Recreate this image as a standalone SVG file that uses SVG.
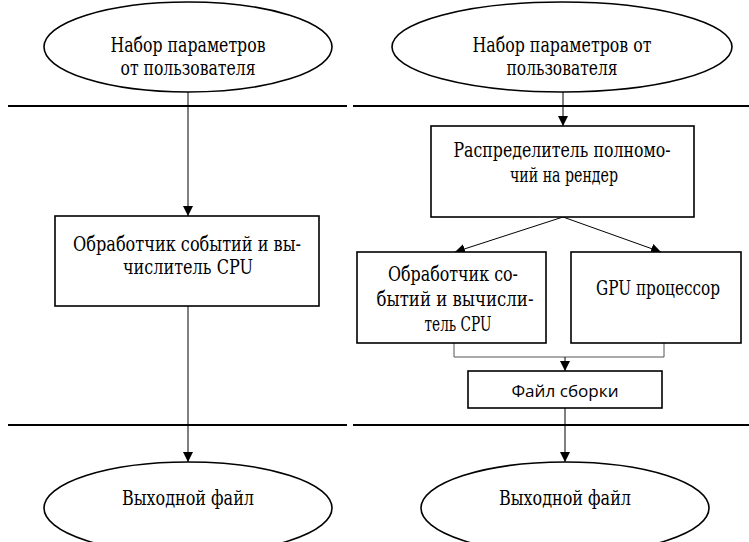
<svg xmlns="http://www.w3.org/2000/svg" width="749" height="542" viewBox="0 0 749 542">
  <style>
    .t { font-family: "DejaVu Serif", serif; font-size: 20px; fill: #000; text-anchor: middle; }
    .s { font-family: "Open Sans", "Noto Sans", sans-serif; font-size: 17px; fill: #000; text-anchor: middle; }
    .node { fill: #fff; stroke: #000; stroke-width: 1.6; }
    .sep { stroke: #000; stroke-width: 2; }
    .edge { fill: none; stroke: #000; stroke-width: 1; }
    .bracket { fill: none; stroke: #555; stroke-width: 1; }
  </style>
  <defs>
    <marker id="arr" viewBox="0 0 10 10" refX="10" refY="5" markerWidth="10" markerHeight="10" markerUnits="userSpaceOnUse" orient="auto">
      <path d="M0,0 L10,5 L0,10 z" fill="#000"/>
    </marker>
  </defs>

  <rect width="749" height="542" fill="#fff"/>

  <!-- lane separators -->
  <g id="separators">
    <line class="sep" x1="8" y1="106" x2="347" y2="106"/>
    <line class="sep" x1="353" y1="106" x2="749" y2="106"/>
    <line class="sep" x1="8" y1="425" x2="347" y2="425"/>
    <line class="sep" x1="353" y1="425" x2="749" y2="425"/>
  </g>

  <!-- connectors -->
  <g id="connectors">
    <line class="edge" x1="188" y1="92" x2="188" y2="216" marker-end="url(#arr)"/>
    <line class="edge" x1="188" y1="306" x2="188" y2="462" marker-end="url(#arr)"/>
    <line class="edge" x1="563" y1="92" x2="563" y2="126" marker-end="url(#arr)"/>
    <line class="edge" x1="563" y1="217" x2="455" y2="252" marker-end="url(#arr)"/>
    <line class="edge" x1="563" y1="217" x2="661" y2="252" marker-end="url(#arr)"/>
    <polyline class="bracket" points="454,343 454,357 664,357 664,343"/>
    <line class="edge" x1="565" y1="357" x2="565" y2="371" marker-end="url(#arr)"/>
    <line class="edge" x1="565" y1="408" x2="565" y2="462" marker-end="url(#arr)"/>
  </g>

  <!-- left lane -->
  <g id="input-left">
    <ellipse class="node" cx="188" cy="47" rx="144" ry="45"/>
    <text class="t" x="188" y="52" textLength="155" lengthAdjust="spacingAndGlyphs">Набор параметров</text>
    <text class="t" x="188" y="75" textLength="135" lengthAdjust="spacingAndGlyphs">от пользователя</text>
  </g>
  <g id="cpu-left">
    <rect class="node" x="55" y="216" width="264" height="90"/>
    <text class="t" x="187" y="251" textLength="228" lengthAdjust="spacingAndGlyphs">Обработчик событий и вы-</text>
    <text class="t" x="188" y="274" textLength="130" lengthAdjust="spacingAndGlyphs">числитель CPU</text>
  </g>
  <g id="output-left">
    <ellipse class="node" cx="188" cy="508" rx="144" ry="46"/>
    <text class="t" x="188" y="505" textLength="132" lengthAdjust="spacingAndGlyphs">Выходной файл</text>
  </g>

  <!-- right lane -->
  <g id="input-right">
    <ellipse class="node" cx="562" cy="47" rx="170" ry="45"/>
    <text class="t" x="562" y="52" textLength="179" lengthAdjust="spacingAndGlyphs">Набор параметров от</text>
    <text class="t" x="562" y="75" textLength="111" lengthAdjust="spacingAndGlyphs">пользователя</text>
  </g>
  <g id="dispatcher">
    <rect class="node" x="431" y="126" width="263" height="91"/>
    <text class="t" x="562" y="157" textLength="217" lengthAdjust="spacingAndGlyphs">Распределитель полномо-</text>
    <text class="t" x="564" y="182" textLength="108" lengthAdjust="spacingAndGlyphs">чий на рендер</text>
  </g>
  <g id="cpu-right">
    <rect class="node" x="357" y="252" width="189" height="91"/>
    <text class="t" x="453" y="281" textLength="130" lengthAdjust="spacingAndGlyphs">Обработчик со-</text>
    <text class="t" x="455" y="306" textLength="157" lengthAdjust="spacingAndGlyphs">бытий и вычисли-</text>
    <text class="t" x="458" y="331" textLength="67" lengthAdjust="spacingAndGlyphs">тель CPU</text>
  </g>
  <g id="gpu">
    <rect class="node" x="571" y="252" width="170" height="91"/>
    <text class="t" x="658" y="295" textLength="124" lengthAdjust="spacingAndGlyphs">GPU процессор</text>
  </g>
  <g id="build-file">
    <rect class="node" x="468" y="371" width="194" height="37"/>
    <text class="s" x="565" y="397" textLength="107" lengthAdjust="spacingAndGlyphs">Файл сборки</text>
  </g>
  <g id="output-right">
    <ellipse class="node" cx="565" cy="508" rx="144" ry="46"/>
    <text class="t" x="565" y="505" textLength="132" lengthAdjust="spacingAndGlyphs">Выходной файл</text>
  </g>
</svg>
